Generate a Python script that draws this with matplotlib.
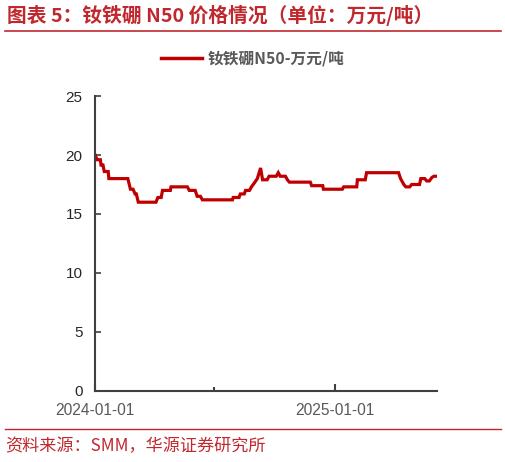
import matplotlib
matplotlib.use("Agg")
import matplotlib.pyplot as plt
import matplotlib.dates as mdates
import pandas as pd
from matplotlib.lines import Line2D

plt.rcParams['font.family'] = ['Noto Sans CJK SC', 'DejaVu Sans']

dates = ["2024-01-01", "2024-01-04", "2024-01-09", "2024-01-10", "2024-01-13", "2024-01-15",
         "2024-01-21", "2024-01-22", "2024-02-20", "2024-02-24", "2024-02-28", "2024-03-02",
         "2024-03-04", "2024-03-07", "2024-04-03", "2024-04-06", "2024-04-11", "2024-04-13",
         "2024-04-25", "2024-04-26", "2024-05-21", "2024-05-24", "2024-06-02", "2024-06-05",
         "2024-06-10", "2024-06-13", "2024-07-29", "2024-07-30", "2024-08-08", "2024-08-10",
         "2024-08-16", "2024-08-18", "2024-08-24", "2024-08-27", "2024-08-31", "2024-09-05",
         "2024-09-10", "2024-09-13", "2024-09-20", "2024-09-23", "2024-10-04", "2024-10-07",
         "2024-10-10", "2024-10-18", "2024-10-21", "2024-10-24", "2024-11-25", "2024-11-27",
         "2024-12-14", "2024-12-15", "2025-01-13", "2025-01-15", "2025-02-04", "2025-02-05",
         "2025-02-17", "2025-02-19", "2025-04-09", "2025-04-12", "2025-04-17", "2025-04-20",
         "2025-04-26", "2025-04-29", "2025-05-11", "2025-05-13", "2025-05-19", "2025-05-22",
         "2025-05-26", "2025-05-30", "2025-06-02", "2025-06-06"]
prices = [20.0, 19.6, 19.6, 19.15, 19.15, 18.6,
          18.6, 18.0, 18.0, 17.1, 17.1, 16.7,
          16.7, 16.0, 16.0, 16.4, 16.4, 17.0,
          17.0, 17.3, 17.3, 17.0, 17.0, 16.5,
          16.5, 16.2, 16.2, 16.4, 16.4, 16.7,
          16.7, 17.0, 17.0, 17.3, 17.6, 18.0,
          18.9, 17.9, 17.9, 18.2, 18.2, 18.5,
          18.2, 18.2, 17.9, 17.7, 17.7, 17.4,
          17.4, 17.1, 17.1, 17.3, 17.3, 17.9,
          17.9, 18.5, 18.5, 18.0, 17.5, 17.3,
          17.3, 17.5, 17.5, 18.0, 18.0, 17.8,
          17.8, 18.1, 18.2, 18.2]

series_name = "钕铁硼N50-万元/吨"
title_text = "图表 5：钕铁硼 N50 价格情况（单位：万元/吨）"
source_text = "资料来源：SMM，华源证券研究所"
x_tick_dates = ["2024-01-01", "2025-01-01"]
x_minor_dates = ["2024-07-01"]
y_ticks = [0, 5, 10, 15, 20, 25]

red = "#C00000"
title_red = "#C0282E"
axis_col = "#404040"
txt_col = "#595959"

fig = plt.figure(figsize=(5.06, 4.62), dpi=100)
ax = fig.add_axes([0.188, 0.1537, 0.676, 0.6385])

x = pd.to_datetime(dates)
ax.plot(x, prices, color=red, lw=2.3, solid_joinstyle='miter')

ax.set_ylim(0, 25)
ax.set_yticks(y_ticks)
ax.set_xlim(pd.Timestamp("2024-01-01"), pd.Timestamp("2025-06-07"))
ax.set_xticks(pd.to_datetime(x_tick_dates))
ax.xaxis.set_major_formatter(mdates.DateFormatter("%Y-%m-%d"))
ax.set_xticks(pd.to_datetime(x_minor_dates), minor=True)

for s in ['top', 'right']:
    ax.spines[s].set_visible(False)
for s in ['left', 'bottom']:
    ax.spines[s].set_color(axis_col)
    ax.spines[s].set_linewidth(1.5)

ax.tick_params(axis='y', direction='in', length=4, width=1.2, color=axis_col,
               labelsize=11, labelcolor='#262626', pad=9)
ax.tick_params(axis='x', which='major', direction='in', length=5, width=1.5, color=axis_col,
               labelsize=11.2, labelcolor=txt_col, pad=9)
ax.tick_params(axis='x', which='minor', direction='in', length=3, width=1.5, color=axis_col)
for lab in ax.get_yticklabels() + ax.get_xticklabels():
    lab.set_family(['Liberation Sans', 'DejaVu Sans'])

# legend
leg_handle = Line2D([], [], color=red, lw=2.5)
leg = fig.legend([leg_handle], [series_name], loc='center', bbox_to_anchor=(0.5, 0.874),
                 frameon=False, handlelength=2.6, handletextpad=0.35,
                 prop={'size': 11.3, 'weight': 'bold'})
for t in leg.get_texts():
    t.set_color(txt_col)

# title and lines
fig.text(0.013, 0.966, title_text, color=title_red, fontsize=14.2, fontweight='bold',
         ha='left', va='center')
fig.add_artist(Line2D([0.01, 0.99], [0.933, 0.933], color=title_red, lw=1.2,
                      transform=fig.transFigure))
fig.add_artist(Line2D([0.01, 0.99], [0.071, 0.071], color=title_red, lw=1.0,
                      transform=fig.transFigure))
fig.text(0.01, 0.035, source_text, color=title_red, fontsize=12.3,
         ha='left', va='center')

fig.savefig("out.png", dpi=100)
